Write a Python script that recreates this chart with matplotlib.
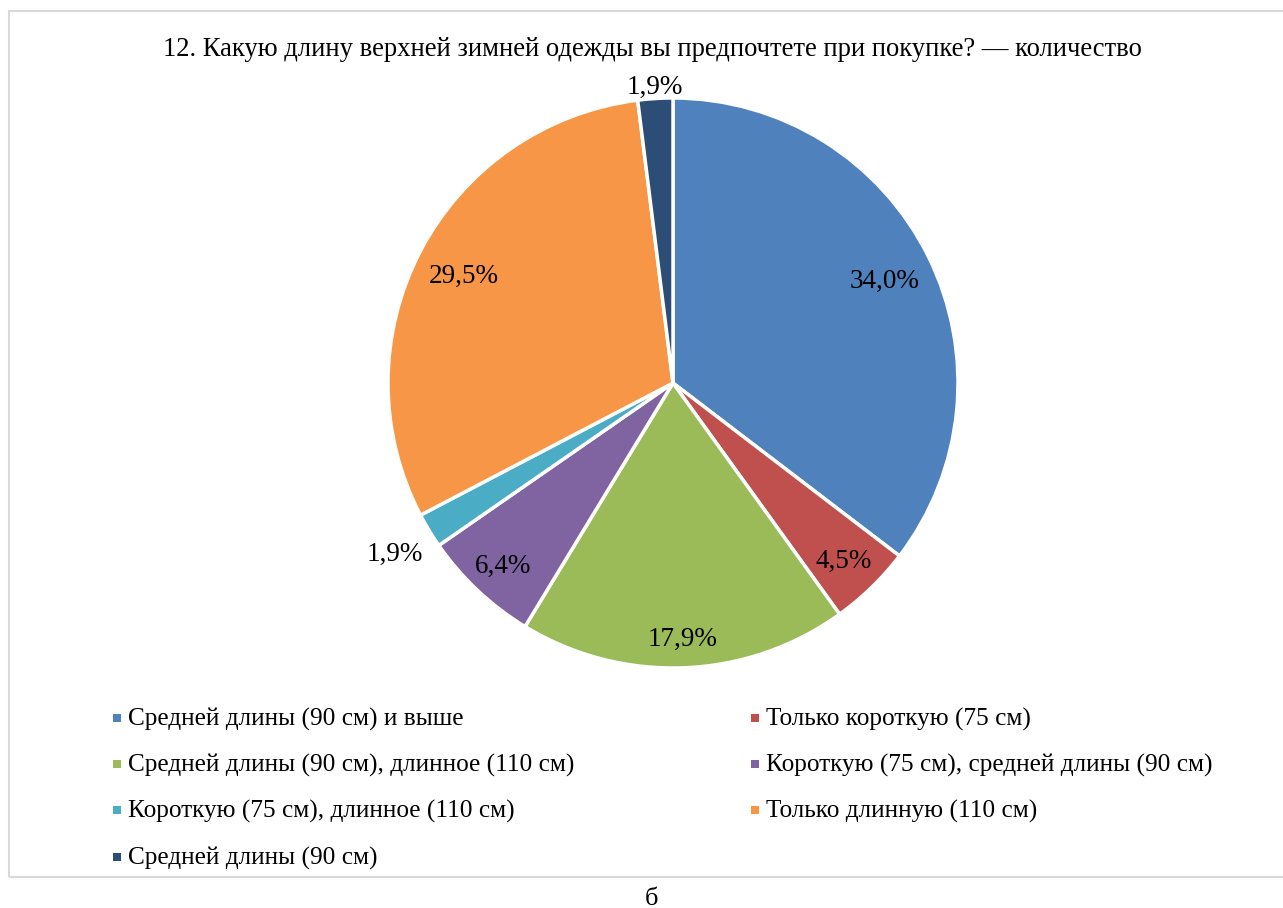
import matplotlib
matplotlib.use("Agg")
import matplotlib.pyplot as plt
from matplotlib.patches import Rectangle
import numpy as np

plt.rcParams['font.family'] = ['Liberation Serif', 'DejaVu Serif']

title = "12. Какую длину верхней зимней одежды вы предпочтете при покупке? — количество"
categories = [
    "Средней длины (90 см) и выше",
    "Только короткую (75 см)",
    "Средней длины (90 см), длинное (110 см)",
    "Короткую (75 см), средней длины (90 см)",
    "Короткую (75 см), длинное (110 см)",
    "Только длинную (110 см)",
    "Средней длины (90 см)",
]
values = [34.0, 4.5, 17.9, 6.4, 1.9, 29.5, 1.9]
colors = ["#4F81BD", "#C0504D", "#9BBB59", "#8064A2", "#4BACC6", "#F79646", "#2C4D75"]
label_dist = [0.83, 0.86, 0.89, 0.87, 1.14, 0.83, 1.05]
caption = "б"

W, H = 1283, 908
fig = plt.figure(figsize=(W / 100, H / 100), dpi=100)

# frame
fig.patches.append(Rectangle((9 / W, 1 - 877 / H), (W + 20 - 9) / W, (877 - 11) / H,
                             transform=fig.transFigure, fill=False,
                             edgecolor="#D9D9D9", lw=1.5))

cx, cy, r = 673, 383, 285
ax = fig.add_axes([(cx - r) / W, 1 - (cy + r) / H, 2 * r / W, 2 * r / H])
wedges, _ = ax.pie(values, colors=colors, startangle=90, counterclock=False,
                   radius=1, wedgeprops=dict(edgecolor="white", linewidth=2.5))
ax.set_xlim(-1, 1)
ax.set_ylim(-1, 1)
ax.set_aspect("equal")
ax.axis("off")

dy = 3 / r
for w, v, d in zip(wedges, values, label_dist):
    ang = np.deg2rad((w.theta1 + w.theta2) / 2)
    ax.text(d * np.cos(ang), d * np.sin(ang) - dy, f"{v:.1f}".replace(".", ",") + "%",
            ha="center", va="center", fontsize=19.5, color="#000000")

fig.text(652 / W, 1 - 50 / H, title, ha="center", va="center", fontsize=19.2)

# legend
col_x = [117, 755]
row_y = [718, 764, 810, 857]
for i, (lab, c) in enumerate(zip(categories, colors)):
    row, col = divmod(i, 2)
    x, y = col_x[col], row_y[row]
    fig.patches.append(Rectangle(((x - 4) / W, 1 - (y + 4) / H), 8 / W, 8 / H,
                                 transform=fig.transFigure, facecolor=c, edgecolor="none"))
    fig.text((x + 11) / W, 1 - (y + 1) / H, lab, ha="left", va="center", fontsize=18.2)

fig.text(652 / W, 1 - 899 / H, caption, ha="center", va="center", fontsize=19)

fig.savefig("out.png", dpi=100)
